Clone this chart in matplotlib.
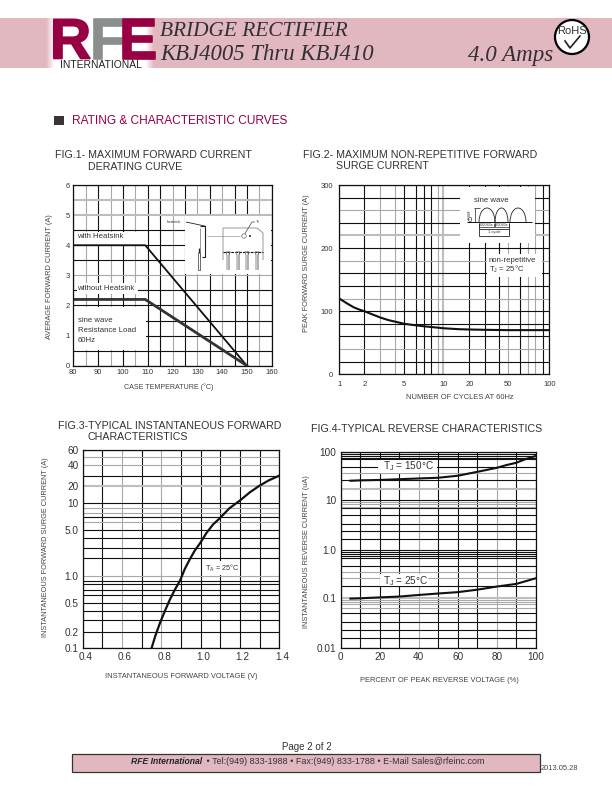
#!/usr/bin/env python3
# KBJ4005 datasheet page 2: four rating curves on printed graph paper
import numpy as np
import matplotlib
matplotlib.use('Agg')
import matplotlib.pyplot as plt
import matplotlib.patheffects as pe
from matplotlib.patches import Rectangle, Circle, Arc
from matplotlib.transforms import Affine2D, ScaledTranslation

plt.rcParams['font.family'] = ['Liberation Sans', 'DejaVu Sans']
plt.rcParams['mathtext.fontset'] = 'custom'
plt.rcParams['mathtext.rm'] = 'Liberation Sans'
plt.rcParams['mathtext.default'] = 'rm'

# ---- fig 1
f1_temp_heat = [80, 109, 150]
f1_amps_heat = [4.0, 4.0, 0.0]
f1_temp_noheat = [80, 109, 150]
f1_amps_noheat = [2.2, 2.2, 0.0]
f1_xticks = [80, 90, 100, 110, 120, 130, 140, 150, 160]
f1_yticks = [0, 1, 2, 3, 4, 5, 6]
f1_xgrid = np.arange(80, 161, 5)
f1_ygrid = np.arange(0, 6.1, 0.5)

# ---- fig 2
f2_cycles = [1, 1.25, 1.5, 1.75, 2, 2.5, 3, 3.5, 4, 5, 6, 7, 8, 10, 15, 20, 30, 50, 100]
f2_amps = [120, 112, 106, 102.5, 100, 94.5, 90, 86, 83.5, 80, 77.5, 76, 75, 73, 71.5, 71, 70.5, 70, 70]
f2_xticks = [1, 2, 5, 10, 20, 50, 100]
f2_yticks = [0, 100, 200, 300]
f2_xgrid = [1, 2, 3, 4, 5, 6, 7, 8, 9, 10, 20, 30, 40, 50, 60, 70, 80, 90, 100]
f2_ygrid = np.arange(0, 301, 20)

# ---- fig 3
f3_volts = [0.750, 0.770, 0.793, 0.817, 0.842, 0.868, 0.895, 0.919, 0.944, 0.969, 0.998, 1.029, 1.063, 1.097,
            1.147, 1.197, 1.25, 1.297, 1.347, 1.4]
f3_amps = [0.1, 0.17, 0.27, 0.39, 0.53, 0.7, 0.9, 1.3, 1.9, 2.7, 3.5, 4.6, 5.7, 6.8, 8.9, 11, 15.5, 20, 25, 30]
f3_xticks = [0.4, 0.6, 0.8, 1.0, 1.2, 1.4]
f3_yticks = [0.1, 0.2, 0.5, 1.0, 5.0, 10, 20, 40, 60]
f3_yticklabels = ['0.1', '0.2', '0.5', '1.0', '5.0', '10', '20', '40', '60']
f3_xgrid = np.arange(0.4, 1.41, 0.1)
f3_ygrid = [0.1, 0.2, 0.3, 0.4, 0.5, 0.6, 0.7, 0.8, 0.9, 1, 2, 3, 4, 5, 6, 7, 8, 9, 10, 20, 30, 40, 50, 60]

# ---- fig 4
f4_pct_hot = [5, 10, 20, 30, 40, 50, 60, 70, 80, 85, 90, 95, 100]
f4_hot = [29, 29.5, 30, 31, 32, 33, 36, 42, 48, 52, 55, 62, 80]
f4_pct_cold = [5, 10, 20, 30, 40, 50, 60, 70, 80, 90, 100]
f4_cold = [0.098, 0.10, 0.105, 0.11, 0.12, 0.13, 0.14, 0.16, 0.19, 0.22, 0.30]
f4_xticks = [0, 20, 40, 60, 80, 100]
f4_yticks = [0.01, 0.1, 1.0, 10, 100]
f4_yticklabels = ['0.01', '0.1', '1.0', '10', '100']
f4_xgrid = np.arange(0, 101, 10)
f4_ygrid = [0.01, 0.02, 0.03, 0.04, 0.05, 0.06, 0.07, 0.08, 0.09, 0.1, 0.2, 0.3, 0.4, 0.5, 0.6, 0.7, 0.8, 0.9,
            1, 2, 3, 4, 5, 6, 7, 8, 9, 10, 20, 30, 40, 50, 60, 70, 80, 90, 100]

# the printed "log" paper is not a true log ruling, so scales follow the rulings as measured
f2_xrule = [0, 75, 123, 167, 195, 231, 255, 275, 295, 312, 390, 438, 479, 507, 542, 567, 587, 612, 630]
f3_yrule = [0, 50, 85, 113, 137, 160, 175, 192, 203, 218, 270, 300, 330, 355, 378, 393, 407, 422, 435,
            487, 518, 550, 573, 595]
f4_yrule = [0, 30, 55, 80, 105, 120, 132, 140, 145, 150, 188, 210, 230, 248, 272, 277, 282, 288, 295,
            327, 353, 373, 400, 420, 425, 432, 438, 445, 477, 505, 525, 545, 567, 572, 577, 583, 588]

DARK = '#111111'
GRAY = '#a8a8a8'
LIGHT = '#bdbdbd'
TXT = '#333333'
PINK = '#e2b8c0'
MAROON = '#970042'
SERIF = ['Liberation Serif']

fig = plt.figure(figsize=(6.12, 7.92), dpi=100)
PX = Affine2D().scale(1, -1).translate(0, 792)   # page pixels, y down


def warped(vals, rule):
    lv = np.log10(vals)
    rule = np.asarray(rule, dtype=float)

    def fwd(v):
        return np.interp(np.log10(np.clip(v, 1e-9, None)), lv, rule)

    def inv(p):
        return 10 ** np.interp(p, rule, lv)
    return fwd, inv


def make_ax(x0, x1, ytop, ybot):
    ax = fig.add_axes([x0 / 612, 1 - ybot / 792, (x1 - x0) / 612, (ybot - ytop) / 792])
    for s in ax.spines.values():
        s.set_linewidth(0.9)
        s.set_color(DARK)
        s.set_zorder(5)
    return ax


def rule_lines(ax, xs, ys, xgray=(), ygray=(), ylight=(), xlight=()):
    for i, v in enumerate(xs):
        if i in xlight:
            ax.axvline(v, color=LIGHT, lw=1.5, zorder=1)
        else:
            ax.axvline(v, color=GRAY if i in xgray else DARK, lw=0.8, zorder=1)
    for i, v in enumerate(ys):
        if i in ylight:
            ax.axhline(v, color=LIGHT, lw=1.5, zorder=1)
        else:
            ax.axhline(v, color=GRAY if i in ygray else DARK, lw=0.8, zorder=1)


def mask(ax, x0, y0, x1, y1):
    ax.add_patch(Rectangle((x0, y0), x1 - x0, y1 - y0, fc='white', ec='none', transform=PX, zorder=2, clip_on=True))


def finish(ax, fs, xlab, ylab, xl, yl, lab_fs, pad=2.5):
    ax.minorticks_off()
    ax.tick_params(which='both', length=0, labelsize=fs, labelcolor=TXT, pad=pad)
    fig.text(xl[0] / 612, 1 - xl[1] / 792, xlab, fontsize=lab_fs, color='#444444', ha='center', va='center')
    fig.text(yl[0] / 612, 1 - yl[1] / 792, ylab, fontsize=5.3, color='#444444', ha='center', va='center',
             rotation=90)


def note(ax, x, y, s, fs=5.6, **kw):
    ax.text(x, y, s, fontsize=fs, color=TXT, transform=PX, va='center', zorder=4, clip_on=False, **kw)


def seg(ax, pts, lw=0.6, c='#222222', **kw):
    p = np.array(pts, dtype=float)
    ax.plot(p[:, 0], p[:, 1], color=c, lw=lw, transform=PX, zorder=3, solid_capstyle='butt', **kw)


# ---------------------------------------------------------------- FIG 1
ax1 = make_ax(73.3, 271.7, 185, 365.7)
ax1.set_xlim(80, 160)
ax1.set_ylim(0, 6)
rule_lines(ax1, f1_xgrid, f1_ygrid, xgray=(1, 3, 5, 8, 10, 12, 15), ygray=(6,), ylight=(10, 11))
mask(ax1, 73, 232, 146, 245)
mask(ax1, 77, 283, 138, 294)
mask(ax1, 74, 307, 146, 350)
mask(ax1, 185, 216, 271, 274)
ax1.plot(f1_temp_heat, f1_amps_heat, color='#111111', lw=1.3, zorder=3)
ax1.plot(f1_temp_noheat, f1_amps_noheat, color='#333333', lw=2.0, zorder=3)
ax1.set_xticks(f1_xticks)
ax1.set_yticks(f1_yticks)
finish(ax1, 5.5, 'CASE TEMPERATURE (°C)', 'AVERAGE FORWARD CURRENT (A)', (169, 387), (50, 277), 5.1)
note(ax1, 77, 237, 'with Heatsink')
note(ax1, 77, 289, 'without Heatsink')
note(ax1, 78, 321, 'sine wave')
note(ax1, 78, 331, 'Resistance Load')
note(ax1, 78, 341, '60Hz')
# heatsink sketch
note(ax1, 167, 222, 'heatsink', fs=2.8)
note(ax1, 256, 222, 'Tc', fs=3)
seg(ax1, [(186, 222), (200, 225), (205, 226)])
seg(ax1, [(200, 226), (205, 226), (205, 257), (202, 257)], lw=0.8)
seg(ax1, [(200, 228), (200, 257)], c='#888888')
seg(ax1, [(199, 248), (199, 253)], lw=0.9)
seg(ax1, [(200, 252), (200, 270), (198, 270), (198, 252)], c='#555555')
seg(ax1, [(207, 236), (240, 236)], c='#999999', lw=0.5)
seg(ax1, [(223, 260), (223, 228), (257, 228), (263, 233), (263, 260)], c='#888888')
seg(ax1, [(223, 252), (263, 252)], c='#111111', lw=0.8, ls=(0, (2.5, 1)))
seg(ax1, [(244, 235), (252, 222), (255, 222)], c='#444444', lw=0.5)
ax1.add_patch(Circle((244, 236), 2.2, fc='white', ec='#444444', lw=0.4, transform=PX, zorder=3))
ax1.add_patch(Circle((250, 236), 1.0, fc='#222222', ec='none', transform=PX, zorder=3))
for px in [228, 238, 247, 257]:
    seg(ax1, [(px - 2, 252), (px + 2, 252), (px + 1, 255), (px + 1, 270)], c='#444444')
    seg(ax1, [(px - 2, 252), (px - 1, 255), (px - 1, 270)], c='#777777')

# ---------------------------------------------------------------- FIG 2
ax2 = make_ax(339.3, 549.3, 185, 374.3)
fwd2, inv2 = warped(f2_xgrid, f2_xrule)
ax2.set_xscale('function', functions=(fwd2, inv2))
ax2.set_xlim(1, 100)
ax2.set_ylim(0, 300)
rule_lines(ax2, f2_xgrid, f2_ygrid, xgray=(2, 3, 8, 13, 15, 16, 18), xlight=(9,),
           ygray=(2, 6, 9, 13), ylight=(11,))
mask(ax2, 460, 187, 535, 243)
mask(ax2, 487, 254, 542, 277)
ax2.plot(f2_cycles, f2_amps, color='#111111', lw=1.5, zorder=3)
ax2.set_xticks(f2_xticks)
ax2.set_xticklabels([str(v) for v in f2_xticks])
ax2.set_yticks(f2_yticks)
finish(ax2, 5.5, 'NUMBER OF CYCLES AT 60Hz', 'PEAK FORWARD SURGE CURRENT (A)', (460, 398), (307, 263), 5.4, pad=4.5)
note(ax2, 489, 260, 'non-repetitive')
note(ax2, 489, 269, 'T$_{J}$ = 25°C')
# sine wave sketch
note(ax2, 474, 201, 'sine wave')
note(ax2, 470, 221, '0', ha='center')
note(ax2, 469.5, 214, 'IFSM', fs=2.8, rotation=90, ha='center')
seg(ax2, [(467, 222), (532, 222)], lw=0.7, c='#111111')
seg(ax2, [(474, 208), (480, 208)], lw=0.5)
seg(ax2, [(474.5, 208), (474.5, 222)], lw=0.5)
for cx, w in [(487, 16), (501.5, 13), (518, 16)]:
    ax2.add_patch(Arc((cx, 222), w, 28, theta1=180, theta2=360, lw=0.6, ec='#222222', transform=PX, zorder=3))
for x0, x1 in [(479, 493.5), (495, 508.5)]:
    seg(ax2, [(x0, 223), (x0, 226.5), (x1, 226.5), (x1, 223)], lw=0.5)
    note(ax2, (x0 + x1) / 2, 225, '0.0083s', fs=2.8, ha='center')
seg(ax2, [(479, 223), (479, 235.5), (509, 235.5), (509, 223)], lw=0.6)
seg(ax2, [(479, 229), (509, 229)], lw=0.6)
note(ax2, 494, 232.5, '1 cycle', fs=3, ha='center')

# ---------------------------------------------------------------- FIG 3
ax3 = make_ax(82.7, 279.3, 450, 648.3)
fwd3, inv3 = warped(f3_ygrid, f3_yrule)
ax3.set_yscale('function', functions=(fwd3, inv3))
ax3.set_xlim(0.4, 1.4)
ax3.set_ylim(0.1, 60)
rule_lines(ax3, f3_xgrid, f3_ygrid, xgray=(2, 4), ygray=(9, 14, 16, 17, 21, 22), ylight=(19,))
mask(ax3, 203, 561, 240, 575)
ax3.plot(f3_volts, f3_amps, color='#111111', lw=1.6, zorder=3)
ax3.set_xticks(f3_xticks)
ax3.set_yticks(f3_yticks)
ax3.set_yticklabels(f3_yticklabels)
finish(ax3, 7.2, 'INSTANTANEOUS FORWARD VOLTAGE (V)', 'INSTANTANEOUS FORWARD SURGE CURRENT (A)', (181, 677), (46, 547),
       5.4, pad=3)
note(ax3, 205, 568, 'T$_{A}$ = 25°C', fs=5.2)
for lab in ax3.get_xticklabels():  # printed labels sit a little right of their rulings
    lab.set_transform(lab.get_transform() + ScaledTranslation(2 / 72, 0, fig.dpi_scale_trans))

# ---------------------------------------------------------------- FIG 4
ax4 = make_ax(340.7, 535.7, 452.3, 648.3)
fwd4, inv4 = warped(f4_ygrid, f4_yrule)
ax4.set_yscale('function', functions=(fwd4, inv4))
ax4.set_xlim(0, 100)
ax4.set_ylim(0.01, 100)
rule_lines(ax4, f4_xgrid, f4_ygrid, xgray=(4, 8), ygray=(5, 6, 7, 8, 11, 12, 24, 25, 26, 30), ylight=(9, 28))
mask(ax4, 378, 460, 437, 473)
mask(ax4, 380, 574, 428, 586)
ax4.plot(f4_pct_hot, f4_hot, color='#111111', lw=1.5, zorder=3)
ax4.plot(f4_pct_cold, f4_cold, color='#111111', lw=1.5, zorder=3)
ax4.set_xticks(f4_xticks)
ax4.set_yticks(f4_yticks)
ax4.set_yticklabels(f4_yticklabels)
finish(ax4, 7.2, 'PERCENT OF PEAK REVERSE VOLTAGE (%)', 'INSTANTANEOUS REVERSE CURRENT (uA)', (439, 680), (306, 552),
       5.4, pad=3)
note(ax4, 383, 466, 'T$_{J}$ = 150°C', fs=7.2)
note(ax4, 383, 581, 'T$_{J}$ = 25°C', fs=7.2)

# ---------------------------------------------------------------- page furniture
pg = fig.add_axes([0, 0, 1, 1], zorder=-1)
pg.axis('off')
pg.add_patch(Rectangle((0, 18), 612, 50, fc=PINK, ec='none'))
pg.imshow(np.array([[0.0, 1, 1, 1, 1, 1, 1, 1, 1, 1, 1, 1, 1, 0]]), extent=(42, 158, 68, 18), aspect='auto',
          cmap=matplotlib.colors.LinearSegmentedColormap.from_list('fade', [PINK, 'white']),
          interpolation='bilinear', zorder=1)
pg.set_xlim(0, 612)
pg.set_ylim(792, 0)
heavy = [pe.withStroke(linewidth=1.2, foreground=MAROON)]
pg.text(50, 58.5, 'R', fontsize=41, fontweight='bold', color=MAROON, va='baseline', zorder=2, path_effects=heavy)
pg.text(90, 58.5, 'F', fontsize=41, fontweight='bold', color='#8a8f8e', va='baseline', zorder=2,
        family=['Liberation Sans Narrow', 'Liberation Sans'],
        path_effects=[pe.withStroke(linewidth=1.2, foreground='#8a8f8e')])
pg.text(119, 58.5, 'E', fontsize=41, fontweight='bold', color=MAROON, va='baseline', zorder=2,
        family=['Liberation Sans Narrow', 'Liberation Sans'], path_effects=heavy)
pg.text(101, 64.5, 'INTERNATIONAL', fontsize=7.4, color='#222222', ha='center', va='center', zorder=2)
pg.text(160, 32, 'BRIDGE RECTIFIER', fontsize=15.4, style='italic', color='#333033', va='center',
        family=SERIF, zorder=2)
pg.text(160, 55, 'KBJ4005 Thru KBJ410', fontsize=16.4, style='italic', color='#333033', va='center',
        family=SERIF, zorder=2)
pg.text(468, 55, '4.0 Amps', fontsize=16.6, style='italic', color='#333033', va='center',
        family=SERIF, zorder=2)
pg.add_patch(Circle((572, 37), 17, fc='white', ec='black', lw=1.6, zorder=2))
pg.text(572, 31, 'RoHS', fontsize=8, color='#333333', ha='center', va='center', zorder=3)
pg.plot([565, 570, 580], [41, 48, 36], color='#222222', lw=1.2, zorder=3)

pg.add_patch(Rectangle((54, 116), 10, 9, fc='#3a3436', ec='none'))
pg.text(72, 120.5, 'RATING & CHARACTERISTIC CURVES', fontsize=8.6, color=MAROON, va='center')

titles = [(55, 155, 'FIG.1- MAXIMUM FORWARD CURRENT'), (88, 167, 'DERATING CURVE'),
          (303, 155, 'FIG.2- MAXIMUM NON-REPETITIVE FORWARD'), (336, 166, 'SURGE CURRENT'),
          (58, 426, 'FIG.3-TYPICAL INSTANTANEOUS FORWARD'), (88, 437, 'CHARACTERISTICS'),
          (311, 429, 'FIG.4-TYPICAL REVERSE CHARACTERISTICS')]
for x, y, s in titles:
    pg.text(x, y, s, fontsize=7.65, color=TXT, va='center')

pg.text(307, 747, 'Page 2 of 2', fontsize=7, color=TXT, ha='center', va='center')
pg.add_patch(Rectangle((72, 754), 468, 18, fc=PINK, ec='#333333', lw=0.9))
pg.text(131, 762, 'RFE International', fontsize=6.2, fontweight='bold', style='italic', color='#222222', va='center')
pg.text(204, 762, ' \u2022 Tel:(949) 833-1988 \u2022 Fax:(949) 833-1788 \u2022 E-Mail Sales@rfeinc.com', fontsize=6.5,
        color='#333333', va='center')
pg.text(541, 768, '2013.05.28', fontsize=5.4, color='#444444', va='center')

fig.savefig('out.png', dpi=100)
